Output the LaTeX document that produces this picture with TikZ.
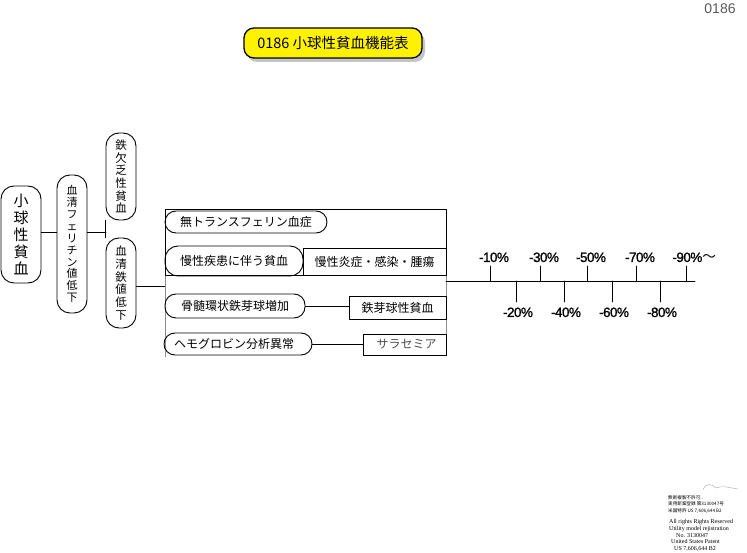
\documentclass[tikz,border=0pt]{standalone}
\usepackage{fontspec}
\setmainfont{Noto Sans CJK JP}
\newfontfamily\jpfont{Noto Sans CJK JP}
\newfontfamily\latinsans{Liberation Sans}
\newfontfamily\pctfont[LetterSpace=-4, FakeBold=1.2]{Liberation Sans}
\newfontfamily\latinserif{Liberation Serif}
\usetikzlibrary{shadows}
\tikzset{
  pill/.style={draw, line width=0.9pt, rounded corners=11pt, inner sep=0pt, align=center, font=\fontsize{12}{12}\selectfont},
  vpill/.style={pill, rounded corners=13pt},
  sqbox/.style={draw, line width=0.9pt, inner sep=0pt, font=\fontsize{12}{12}\selectfont},
  pct/.style={font=\pctfont\fontsize{13.5}{13.5}\selectfont, inner sep=0pt},
  tiny jp/.style={font=\fontsize{4.6}{5}\selectfont, inner sep=0pt, anchor=base west},
  tiny en/.style={font=\latinserif\fontsize{6}{6}\selectfont, inner sep=0pt, anchor=base west},
}
\begin{document}
\begin{tikzpicture}[x=1pt, y=-1pt, line join=round, line cap=round]
    \useasboundingbox (0,0) rectangle (747,553);
    % header
    \node[font=\latinsans\fontsize{14}{14}\selectfont, text=black!65] (pageno) at (720,9) {0186};
    \node[draw, line width=1.3pt, fill=yellow, rounded corners=10pt, minimum width=178pt, minimum height=30pt, inner sep=0pt,
        drop shadow={shadow xshift=3pt, shadow yshift=-4pt, fill=black!45}, font=\fontsize{14.5}{15}\selectfont] (title) at (333,43) {0186 小球性貧血機能表};

    % left tree
    \node[vpill, minimum width=40pt, minimum height=97pt, font=\fontsize{15}{17}\selectfont] (shokyu) at (21,234.5) {小\\球\\性\\貧\\血};
    \node[vpill, minimum width=30pt, minimum height=138pt, font=\fontsize{11}{11.9}\selectfont] (ferritin) at (72,244) {血\\清\\フ\\ェ\\リ\\チ\\ン\\値\\低\\下};
    \node[vpill, minimum width=30pt, minimum height=87pt, font=\fontsize{11.5}{12.7}\selectfont] (tekketsu) at (121,176.5) {鉄\\欠\\乏\\性\\貧\\血};
    \node[vpill, minimum width=30pt, minimum height=90pt, font=\fontsize{11.5}{12.7}\selectfont] (serumfe) at (121,283) {血\\清\\鉄\\値\\低\\下};
    \coordinate (fork) at (106,232);
    \coordinate (frameL) at (165,286);
    \draw[line width=0.9pt] (shokyu.east |- fork) -- (ferritin.west |- fork);
    \draw[line width=0.9pt] (ferritin.east |- fork) -- (fork);
    \draw[line width=0.9pt] (tekketsu.south west) -- (serumfe.north west);
    \draw[line width=0.9pt] (serumfe.east |- frameL) -- (frameL);

    % frame
    \draw[black!45, line width=0.9pt] (165,357) -- (165,209) -- (446,209) -- (446,355);
    \draw[line width=0.9pt] (165,209) rectangle (446,275);

    % causes
    \node[pill, minimum width=162pt, minimum height=22pt] (atransf) at (246,222) {無トランスフェリン血症};
    \node[pill, minimum width=138pt, minimum height=30pt, rounded corners=13pt] (chronic) at (234,261) {慢性疾患に伴う貧血};
    \node[sqbox, minimum width=143pt, minimum height=27pt] (inflam) at (374.5,261.5) {慢性炎症・感染・腫瘍};
    \node[pill, minimum width=140pt, minimum height=24pt] (ringsid) at (235,306) {骨髄環状鉄芽球増加};
    \node[sqbox, minimum width=97pt, minimum height=23pt] (sidero) at (397.5,307.5) {鉄芽球性貧血};
    \node[pill, minimum width=148pt, minimum height=22pt] (hbanal) at (238,344) {\hspace*{-8pt}ヘモグロビン分析異常};
    \node[sqbox, minimum width=83pt, minimum height=21pt, text=black!70] (thal) at (404.5,344.5) {\hspace*{4pt}サラセミア};
    \draw[line width=0.9pt] (ringsid.east) -- (sidero.west |- ringsid.east);
    \draw[line width=0.9pt] (hbanal.east) -- (thal.west |- hbanal.east);

    % scale
    \coordinate (axisL) at (446,281);
    \coordinate (axisR) at (695,281);
    \draw[line width=0.9pt] (axisL) -- (axisR);
    \foreach \x/\lab in {490/-10,540/-30,587/-50,636/-70}
        \draw[line width=0.9pt] (\x,281) -- (\x,266) node[pct, anchor=base] (up\lab) at (\x+4,262) {\lab\%};
    \draw[line width=0.9pt] (686,281) -- (686,266) node[pct, anchor=base west] (up-90) at (672,262) {-90\%{\jpfont ～}};
    \foreach \x/\lab in {516/-20,564/-40,612/-60,660/-80}
        \draw[line width=0.9pt] (\x,281) -- (\x,302) node[pct, anchor=base] (dn\lab) at (\x+2,317) {\lab\%};

    % rights
    \draw[black!35, line width=0.4pt] (703,490) .. controls (706,482) and (712,484) .. (716,488) .. controls (722,485) and (730,488) .. (738,489);
    \node[tiny jp] (r1) at (668,499) {無断複製不許可..};
    \node[tiny jp] (r2) at (668,505.5) {実用新案登録 第3130047号};
    \node[tiny jp] (r3) at (668,512) {米国特許 US 7,606,644 B2};
    \node[tiny en] (r4) at (669,523) {All rights Rights Reserved};
    \node[tiny en] (r5) at (669,530) {Utility model rejistration};
    \node[tiny en] (r6) at (676,537) {No. 3130047};
    \node[tiny en] (r7) at (671,543.5) {United States Patent};
    \node[tiny en] (r8) at (674,550) {US 7,606,644 B2};
\end{tikzpicture}
\end{document}
